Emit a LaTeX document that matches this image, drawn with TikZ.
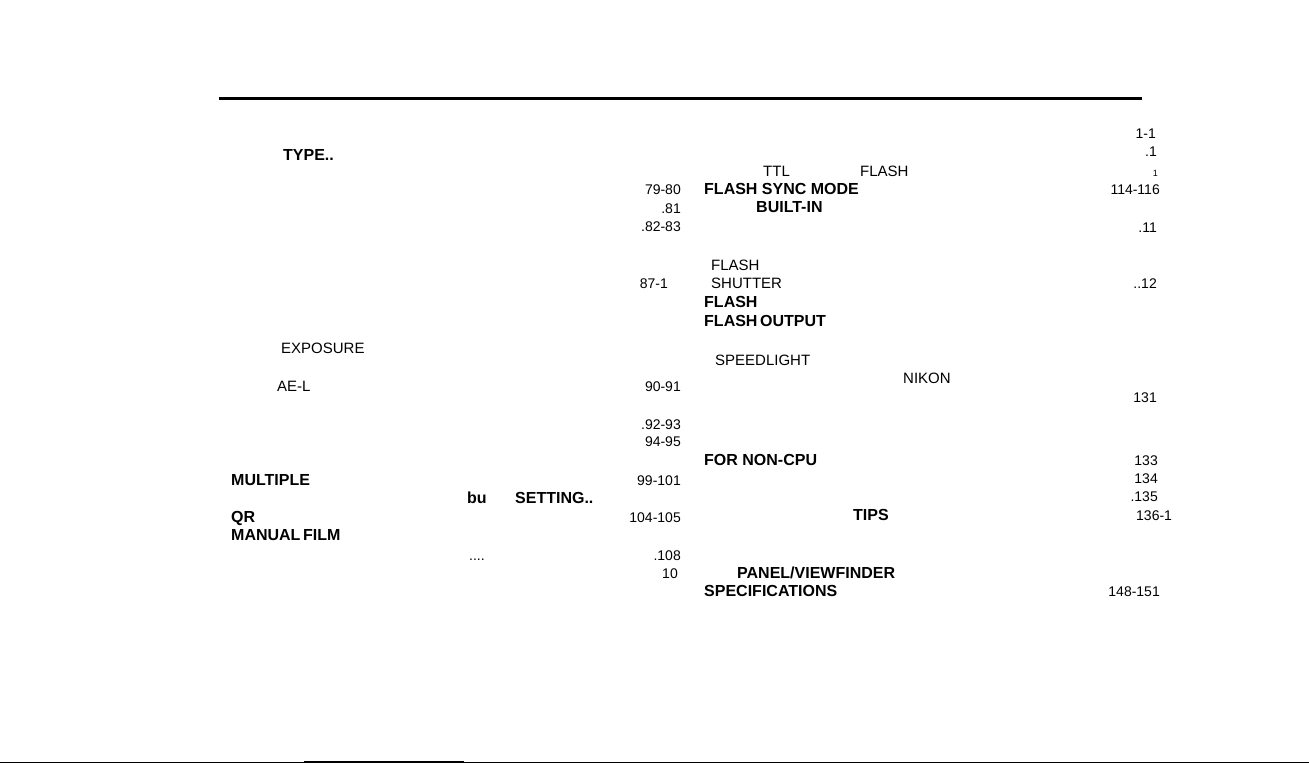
\documentclass[tikz,border=0pt]{standalone}
\usepackage{fontspec}
\setmainfont{Liberation Sans}
\begin{document}
\begin{tikzpicture}[x=1pt,y=-1pt,
  txt/.style={inner sep=0pt,font=\fontsize{15}{17}\selectfont},
  num/.style={inner sep=0pt,font=\fontsize{14}{16}\selectfont},
  bt/.style={inner sep=0pt,font=\fontsize{16}{18}\selectfont\bfseries},
  L/.style={anchor=base west},
  R/.style={anchor=base east}]
\useasboundingbox (0,0) rectangle (1309,763);
% rules
\coordinate (r1) at (219,98.5);
\coordinate (r2) at (1142,98.5);
\draw[line width=3pt] (r1) -- (r2);
\coordinate (b1) at (0,762.5);
\coordinate (b2) at (1309,762.5);
\draw[line width=1pt] (b1) -- (b2);
\coordinate (b3) at (304,762);
\coordinate (b4) at (464,762);
\draw[line width=2.2pt] (b3) -- (b4);
% left column
\node[bt,L] (l1) at (283,160) {TYPE..};
\node[num,R] (l2) at (681,194) {79-80};
\node[num,R] (l3) at (681,213) {.81};
\node[num,R] (l4) at (681,231) {.82-83};
\node[num,R] (l5) at (668,288) {87-1};
\node[txt,L] (l6) at (281,353) {EXPOSURE};
\node[txt,L] (l7) at (277,391) {AE-L};
\node[num,R] (l8) at (681,391) {90-91};
\node[num,R] (l9) at (681,429) {.92-93};
\node[num,R] (l10) at (681,446) {94-95};
\node[bt,L] (l11) at (231,485) {MULTIPLE};
\node[num,R] (l12) at (681,485) {99-101};
\node[bt,L] (l13) at (467,503) {bu};
\node[bt,L] (l14) at (515,503) {SETTING..};
\node[bt,L] (l15) at (231,522) {QR};
\node[num,R] (l16) at (681,522) {104-105};
\node[bt,L] (l17) at (231,540) {MANUAL\,FILM};
\node[num,L] (l18) at (469,560) {....};
\node[num,R] (l19) at (681,560) {.108};
\node[num,R] (l20) at (678,578) {10};
% right column
\node[num,R] (r3) at (1156,138) {1-1};
\node[num,R] (r4) at (1157,156) {.1};
\node[txt,L] (r5) at (763,176) {TTL};
\node[txt,L] (r6) at (860,176) {FLASH};
\node[num,R,font=\fontsize{9}{10}\selectfont] (r7) at (1158,176) {1};
\node[bt,L] (r8) at (704,194) {FLASH SYNC MODE};
\node[num,R] (r9) at (1160,194) {114-116};
\node[bt,L] (r10) at (756,212) {BUILT-IN};
\node[num,R] (r11) at (1157,232) {.11};
\node[txt,L] (r12) at (711,270) {FLASH};
\node[txt,L] (r13) at (711,288) {SHUTTER};
\node[num,R] (r14) at (1157,288) {..12};
\node[bt,L] (r15) at (704,307) {FLASH};
\node[bt,L] (r16) at (704,326) {FLASH\,OUTPUT};
\node[txt,L] (r17) at (715,365) {SPEEDLIGHT};
\node[txt,L] (r18) at (903,383) {NIKON};
\node[num,R] (r19) at (1157,402) {131};
\node[bt,L] (r20) at (704,465) {FOR NON-CPU};
\node[num,R] (r21) at (1158,465) {133};
\node[num,R] (r22) at (1158,483) {134};
\node[num,R] (r23) at (1158,501) {.135};
\node[bt,L] (r24) at (853,520) {TIPS};
\node[num,L] (r25) at (1136,520) {136-1};
\node[bt,L] (r26) at (737,578) {PANEL/VIEWFINDER};
\node[bt,L] (r27) at (704,596) {SPECIFICATIONS};
\node[num,R] (r28) at (1160,596) {148-151};
\end{tikzpicture}
\end{document}
